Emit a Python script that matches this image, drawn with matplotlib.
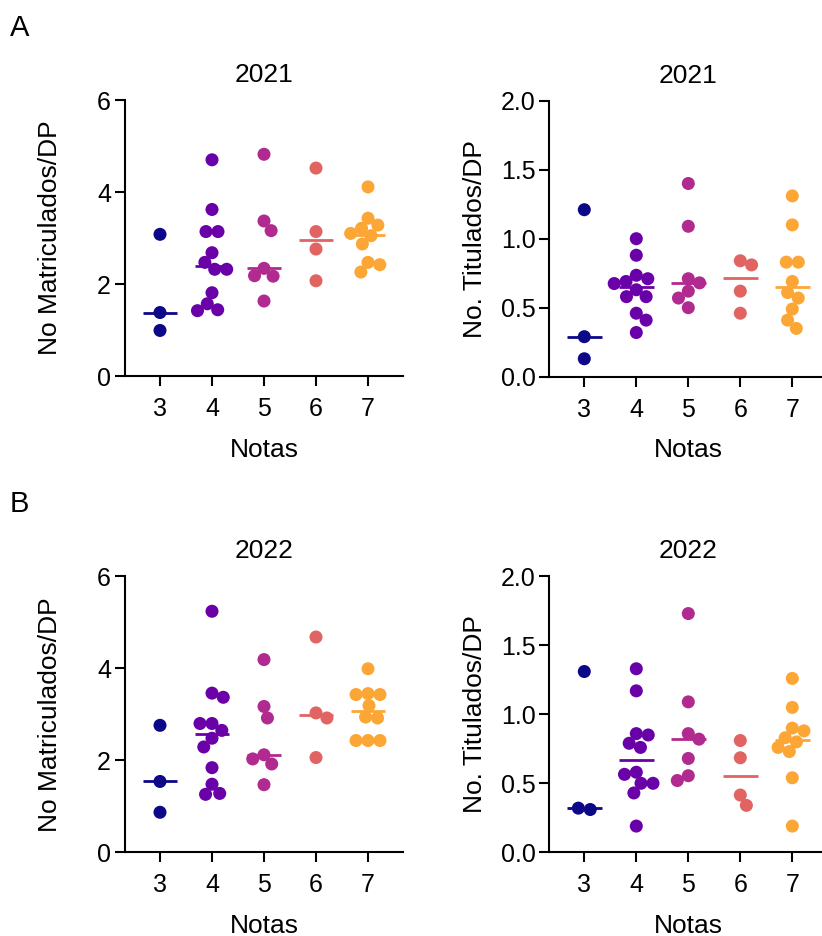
import numpy as np
import matplotlib
matplotlib.use("Agg")
import matplotlib.pyplot as plt

plt.rcParams['font.family'] = ['Liberation Sans', 'DejaVu Sans']

# datos
notas = [3, 4, 5, 6, 7]
colores = ['#0d0887', '#6a00a8', '#b12a90', '#e16462', '#fca636']

mat_2021 = [
    [3.08, 1.38, 0.99],
    [4.70, 3.62, 3.14, 3.14, 2.68, 2.47, 2.32, 2.32, 1.81, 1.57, 1.44, 1.42],
    [4.82, 3.37, 3.16, 2.34, 2.18, 2.17, 1.63],
    [4.52, 3.14, 2.76, 2.07],
    [4.11, 3.43, 3.28, 3.21, 3.10, 3.05, 2.87, 2.47, 2.42, 2.26],
]
tit_2021 = [
    [1.21, 0.29, 0.13],
    [1.00, 0.88, 0.735, 0.71, 0.69, 0.675, 0.63, 0.58, 0.58, 0.46, 0.41, 0.32],
    [1.40, 1.09, 0.71, 0.68, 0.62, 0.57, 0.50],
    [0.84, 0.81, 0.62, 0.46],
    [1.31, 1.10, 0.83, 0.83, 0.69, 0.61, 0.57, 0.49, 0.41, 0.35],
]
mat_2022 = [
    [2.76, 1.54, 0.87],
    [5.24, 3.46, 3.37, 2.80, 2.80, 2.65, 2.48, 2.29, 1.84, 1.48, 1.28, 1.26],
    [4.19, 3.17, 2.92, 2.12, 2.03, 1.92, 1.47],
    [4.68, 3.03, 2.92, 2.06],
    [3.99, 3.45, 3.43, 3.43, 3.19, 2.94, 2.92, 2.43, 2.43, 2.43],
]
tit_2022 = [
    [1.31, 0.32, 0.31],
    [1.33, 1.17, 0.86, 0.85, 0.79, 0.76, 0.58, 0.565, 0.50, 0.50, 0.43, 0.19],
    [1.73, 1.09, 0.86, 0.82, 0.68, 0.555, 0.52],
    [0.81, 0.685, 0.415, 0.34],
    [1.26, 1.05, 0.90, 0.88, 0.83, 0.80, 0.76, 0.73, 0.54, 0.19],
]

DIAM = 12.0  # px, separacion entre puntos


def swarm(ax, x0, vals, d=DIAM):
    pts = ax.transData.transform(np.column_stack([np.full(len(vals), x0), vals]))
    ys = pts[:, 1]
    offs = np.zeros(len(vals))
    placed = []
    lado = 1
    for i in np.argsort(-ys):
        y = ys[i]
        cands = [0.0]
        for px, py in placed:
            dy = abs(y - py)
            if dy < d:
                dx = np.sqrt(d * d - dy * dy)
                cands += [px - dx, px + dx]
        cands.sort(key=lambda c: (round(abs(c), 3), -lado * c))
        for c in cands:
            if all((c - px) ** 2 + (y - py) ** 2 >= d * d - 1e-6 for px, py in placed):
                break
        if c != 0:
            lado = -np.sign(c)
        placed.append((c, y))
        offs[i] = c
    # centrar grupos que quedan solos en la misma fila
    for i in range(len(vals)):
        fila = [j for j in range(len(vals)) if abs(ys[j] - ys[i]) < 2]
        if len(fila) > 1 and all(abs(ys[j] - ys[k]) >= d for j in fila
                                 for k in range(len(vals)) if k not in fila):
            offs[fila] -= np.mean(offs[fila])
    ppu = ax.transData.transform((1, 0))[0] - ax.transData.transform((0, 0))[0]
    return x0 + offs / ppu


def panel(ax, datos, titulo, ylab, ymax, yticks, fmt, ypad):
    ax.set_xlim(3 - 0.673, 7 + 0.673)
    ax.set_ylim(0, ymax)
    for n, vals, col in zip(notas, datos, colores):
        xs = swarm(ax, n, vals)
        ax.scatter(xs, vals, s=88, color=col, edgecolors='none', zorder=2, clip_on=False)
        med = np.median(vals)
        ax.plot([n - 1 / 3, n + 1 / 3], [med, med], color=col, lw=2, zorder=3,
                solid_capstyle='butt')
    ax.set_xticks(notas)
    ax.set_yticks(yticks)
    ax.set_yticklabels([fmt % t for t in yticks])
    for s in ['top', 'right']:
        ax.spines[s].set_visible(False)
    for s in ['left', 'bottom']:
        ax.spines[s].set_linewidth(1.5)
    ax.tick_params(direction='out', length=7, width=1.5, labelsize=18, pad=3)
    ax.tick_params(axis='x', pad=8)
    ax.set_title(titulo, fontsize=19, pad=13)
    ax.set_xlabel('Notas', fontsize=19, labelpad=12)
    ax.set_ylabel(ylab, fontsize=19, labelpad=ypad)


fig = plt.figure(figsize=(8.22, 9.36), dpi=100)
W, H = 822.0, 936.0
aw = 278 / W
ah = 276 / H
ax1 = fig.add_axes([125 / W, 1 - 376 / H, aw, ah])
ax2 = fig.add_axes([549.3 / W, 1 - 376.7 / H, aw, ah])
ax3 = fig.add_axes([125 / W, 1 - 852.3 / H, aw, ah])
ax4 = fig.add_axes([549.3 / W, 1 - 852.3 / H, aw, ah])

panel(ax1, mat_2021, '2021', 'No Matriculados/DP', 6, [0, 2, 4, 6], '%d', 25)
panel(ax2, tit_2021, '2021', 'No. Titulados/DP', 2, [0, 0.5, 1.0, 1.5, 2.0], '%.1f', 10)
panel(ax3, mat_2022, '2022', 'No Matriculados/DP', 6, [0, 2, 4, 6], '%d', 25)
panel(ax4, tit_2022, '2022', 'No. Titulados/DP', 2, [0, 0.5, 1.0, 1.5, 2.0], '%.1f', 10)

fig.text(10 / W, 1 - 36 / H, 'A', fontsize=21, va='baseline')
fig.text(10 / W, 1 - 512 / H, 'B', fontsize=21, va='baseline')

fig.savefig('out.png', dpi=100)
